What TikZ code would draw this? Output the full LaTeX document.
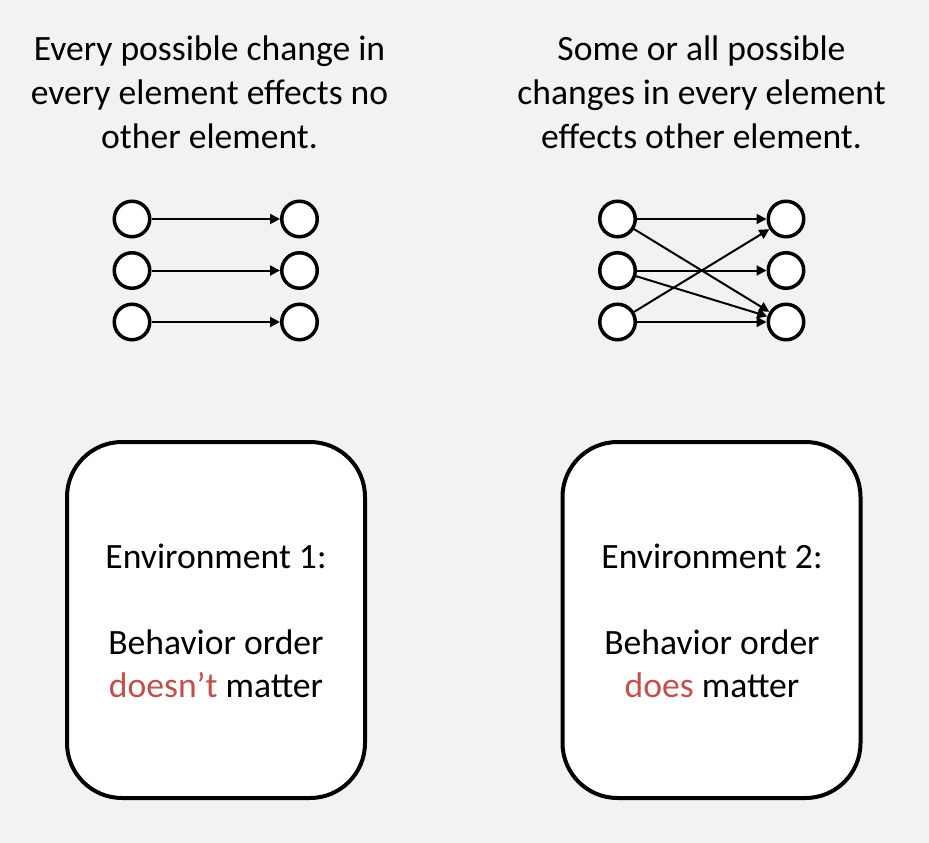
\documentclass[tikz,border=0pt]{standalone}
\usepackage{fontspec}
\setmainfont{Carlito}
\usetikzlibrary{arrows.meta}
\definecolor{bg}{HTML}{F2F2F2}
\definecolor{redtxt}{HTML}{C0504D}
\tikzset{
  dot/.style={circle, draw=black, fill=white, line width=3.5pt, minimum size=35.5pt, inner sep=0pt},
  arr/.style={line width=2pt, -{Triangle[length=10pt,width=10pt]}},
  envbox/.style={draw=black, fill=white, line width=4pt, rounded corners=55pt, minimum width=298pt, minimum height=356pt, inner sep=0pt},
  txt/.style={anchor=base, inner sep=0pt, font=\fontsize{35.6}{43.3}\selectfont}
}
\begin{document}
\begin{tikzpicture}[x=1pt,y=-1pt]
\fill[bg] (0,0) rectangle (929,843);
\useasboundingbox (0,0) rectangle (929,843);

% top texts
\node[txt] (t1a) at (209.5,61) {Every possible change in};
\node[txt] (t1b) at (209.5,104.5) {every element effects no};
\node[txt] (t1c) at (209.5,148) {other element.};
\node[txt] (t2a) at (701.5,61) {Some or all possible};
\node[txt] (t2b) at (701.5,104.5) {changes in every element};
\node[txt] (t2c) at (701.5,148) {effects other element.};

% left diagram
\node[dot] (a1) at (132,219) {};
\node[dot] (a2) at (132,270.5) {};
\node[dot] (a3) at (132,322) {};
\node[dot] (b1) at (299.5,219) {};
\node[dot] (b2) at (299.5,270.5) {};
\node[dot] (b3) at (299.5,322) {};
\draw[arr] (a1) -- (b1);
\draw[arr] (a2) -- (b2);
\draw[arr] (a3) -- (b3);

% right diagram
\node[dot] (c1) at (617.5,219) {};
\node[dot] (c2) at (617.5,270.5) {};
\node[dot] (c3) at (617.5,322) {};
\node[dot] (d1) at (786,219) {};
\node[dot] (d2) at (786,270.5) {};
\node[dot] (d3) at (786,322) {};
\draw[arr] (c1) -- (d1);
\draw[arr] (c1) -- (d3);
\draw[arr] (c2) -- (d2);
\draw[arr] (c2) -- (d3);
\draw[arr] (c3) -- (d1);
\draw[arr] (c3) -- (d3);

% boxes
\node[envbox] (e1) at (216,620) {};
\node[envbox] (e2) at (711.5,620) {};
\node[txt] (e1a) at (216,568.3) {Environment 1:};
\node[txt] (e1b) at (216,654) {Behavior order};
\node[txt] (e1c) at (216,697.3) {\textcolor{redtxt}{doesn’t} matter};
\node[txt] (e2a) at (712,568.3) {Environment 2:};
\node[txt] (e2b) at (712,654) {Behavior order};
\node[txt] (e2c) at (712,697.3) {\textcolor{redtxt}{does} matter};
\end{tikzpicture}
\end{document}
